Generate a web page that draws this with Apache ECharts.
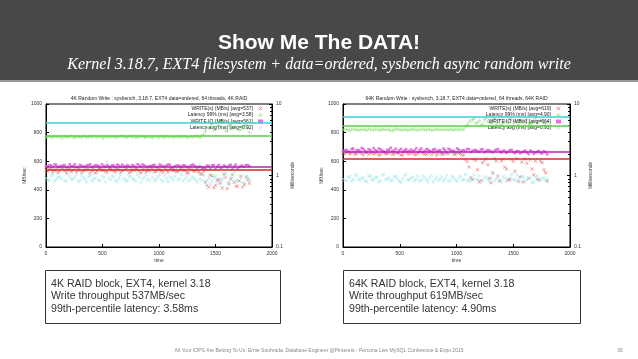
<!DOCTYPE html>
<html><head><meta charset="utf-8">
<script src="https://cdn.jsdelivr.net/npm/echarts@6/dist/echarts.min.js"></script>
<style>html,body{margin:0;padding:0;background:#fff}#c{width:638px;height:359px}</style>
</head><body><div id="c"></div>
<script>
// time axis (seconds): two interleaved sample passes
const times = [0,30,60,90,120,150,180,210,240,270,300,330,360,390,420,450,480,510,540,570,600,630,660,690,720,750,780,810,840,870,900,930,960,990,1020,1050,1080,1110,1140,1170,1200,1230,1260,1290,1320,1350,1380,1410,1440,1470,1500,1530,1560,1590,1620,1650,1680,1710,1740,1770,1800];
const times2 = [15,45,75,105,135,165,195,225,255,285,315,345,375,405,435,465,495,525,555,585,615,645,675,705,735,765,795,825,855,885,915,945,975,1005,1035,1065,1095,1125,1155,1185,1215,1245,1275,1305,1335,1365,1395,1425,1455,1485,1515,1545,1575,1605,1635,1665,1695,1725,1755,1785];

// 4K RAID chart
const redL = [538,546,524,541,531,552,519,544,536,527, 549,533,541,514,546,529,551,538,523,543, 532,547,521,539,550,527,536,545,517,541, 534,553,526,540,531,548,522,544,536,529, 551,538,519,542,533,527,508, 455,418,498,432, 471,412,486,440,505,425,462,418,490,445];
const redL2 = [529,543,537,520,548,533,541,526,554,535, 522,540,547,531,518,545,536,528,550,539, 525,543,534,549,519,538,546,530,542,524, 537,551,528,544,521,539,547,532,526,545, 535,520,549,531,541,512,530, 430,502,415,468,447,510,408,478,452,425,495,436,470];
const greenL = [3.42,3.50,3.38,3.47,3.55,3.40,3.45,3.52,3.36,3.48, 3.44,3.53,3.39,3.49,3.57,3.41,3.46,3.35,3.51,3.43, 3.48,3.37,3.54,3.45,3.40,3.50,3.60,3.42,3.47,3.38, 3.52,3.44,3.49,3.36,3.55,3.41,3.46,3.53,3.39,3.48, 3.43,3.51,3.37,3.46,3.54,3.40,3.62, 4.1,4.6,5.2,4.4,4.9,5.6,4.2,5.0,4.5,5.3,4.3,4.8,5.1,4.0];
const greenL2 = [3.47,3.39,3.53,3.44,3.36,3.50,3.42,3.56,3.41,3.46, 3.38,3.52,3.45,3.40,3.49,3.55,3.37,3.48,3.43,3.51, 3.41,3.46,3.58,3.39,3.53,3.44,3.36,3.49,3.55,3.42, 3.47,3.38,3.51,3.45,3.40,3.56,3.43,3.37,3.50,3.46, 3.52,3.39,3.48,3.44,3.57,3.41,3.75, 4.7,5.4,4.3,5.0,5.8,4.6,4.1,5.2,4.8,5.5,4.4,5.0,4.6];
const magL = [566,572,559,575,563,569,557,578,565,561, 574,560,568,577,562,571,556,566,573,559, 569,576,561,564,572,558,567,579,562,570, 557,566,574,560,569,563,577,558,565,571, 561,568,556,573,564,559,552,548,566,571, 545,574,558,563,569,550,576,560,567,572,565];
const magL2 = [562,570,577,558,567,573,560,565,579,556, 568,563,574,559,571,566,578,561,564,572, 557,569,575,562,566,573,559,570,577,563, 565,571,558,576,562,568,574,556,569,564, 572,560,567,575,558,563,555,569,547,573, 562,551,570,557,575,564,549,568,561,574];
const cyanL = [0.92,0.85,1.02,0.88,0.95,1.30,0.83,0.97,0.90,1.05, 0.86,0.93,0.81,0.99,0.89,1.08,0.84,0.94,1.55,0.87, 0.96,0.82,1.01,0.91,0.85,0.98,0.88,1.04,0.80,0.93, 0.89,1.12,0.84,0.95,0.87,1.00,0.82,0.92,0.97,0.86, 1.03,0.90,0.83,0.96,0.88,1.40,0.85,0.79,0.91,0.84, 0.98,0.77,0.88,1.06,0.81,0.93,0.86,1.20,0.80,0.95,0.87];
const cyanL2 = [0.87,0.99,0.83,0.94,0.90,0.85,1.07,0.88,0.95,0.82, 1.01,0.89,0.96,0.84,0.92,0.87,1.00,0.81,0.93,0.98, 0.86,0.91,1.18,0.84,0.97,0.89,0.83,0.95,0.90,1.02, 0.85,0.94,0.88,1.03,0.82,0.91,0.96,0.86,1.25,0.90, 0.84,0.98,0.87,0.93,0.81,0.89,1.01,0.85,0.76,0.94, 0.83,0.90,0.97,0.78,0.88,1.10,0.84,0.92,0.79,0.96];
const meanL = [537, 3.62, 561, 5.4];
const namesL = ['WRITE(s) (MB/s) [avg=537]','Latency 99% (ms) [avg=3.58]','WRITE IO (MB/s) [avg=561]','Latency avg (ms) [avg=0.92]'];

// 64K RAID chart
const redR = [655,662,648,668,651,659,644,665,657,650, 663,646,660,653,669,649,658,642,664,652, 661,647,656,667,650,659,645,663,654,648, 660,652,666,646,657,641, 610,560,470,605,455,590,615,480,520,600,462,612,545,470,598,618,490,455,585,610,505,475,600,540,460];
const redR2 = [650,664,657,645,668,653,660,647,662,655, 643,666,651,658,649,663,656,644,667,652, 659,646,665,654,648,661,657,643,664,650, 656,668,647,662,653,645, 598,485,612,540,465,605,575,450,618,495,602,560,470,610,530,458,595,615,480,545,600,468,590,520];
const greenR = [4.35,4.42,4.30,4.46,4.38,4.33,4.44,4.28,4.40,4.36, 4.47,4.32,4.39,4.43,4.29,4.37,4.45,4.34,4.41,4.31, 4.38,4.46,4.33,4.40,4.36,4.44,4.30,4.42,4.35,4.39, 4.43,4.32,4.37,4.45,4.34,4.40, 4.8,5.6,6.1,5.4,5.9,5.2,6.3,5.5,5.8,5.1,6.0,5.3,5.7,6.2,5.0,5.6,5.9,5.4,6.1,5.2,5.8,5.5,6.0,5.3,5.7];
const greenR2 = [4.40,4.31,4.45,4.37,4.28,4.43,4.35,4.48,4.33,4.39, 4.30,4.44,4.36,4.41,4.27,4.46,4.38,4.32,4.43,4.35, 4.42,4.29,4.37,4.47,4.34,4.40,4.31,4.45,4.38,4.33, 4.36,4.44,4.30,4.41,4.47,4.39, 5.2,5.8,6.2,5.5,5.0,6.0,5.7,5.3,6.3,5.6,5.1,5.9,5.4,6.1,5.7,5.2,5.8,6.0,5.5,5.3,6.2,5.6,5.9,5.4];
const magR = [672,680,665,688,676,669,684,662,678,691, 670,683,667,679,694,673,661,686,675,668, 682,677,664,689,671,680,666,685,674,660, 678,687,670,663,681,675,668,684,672,679, 666,683,671,675,662,680,669,673,658,677, 664,671,655,668,660,674,652,666,658,670,648];
const magR2 = [675,668,686,660,679,692,671,683,665,677, 689,674,662,681,670,687,676,666,684,672, 669,690,678,663,685,673,681,667,676,688, 662,680,673,689,667,677,685,664,676,670, 681,663,678,668,674,685,660,672,667,679, 656,670,663,675,650,667,661,672,654,663];
const cyanR = [0.90,0.84,0.97,0.88,1.02,0.86,0.93,0.82,0.99,0.87, 0.95,0.83,1.04,0.89,0.85,0.96,0.91,0.81,1.00,0.87, 0.92,0.84,0.98,0.86,0.94,0.82,1.01,0.88,0.85,0.96, 0.90,0.83,0.97,0.87,0.93,0.86,1.03,0.84,0.91,0.88, 0.99,0.85,0.94,0.82,1.06,0.89,0.86,0.97,0.83,0.92, 0.88,1.02,0.84,0.95,0.87,0.91,0.81,0.99,0.86,0.93,0.89];
const cyanR2 = [0.86,0.95,0.83,1.00,0.89,0.92,0.84,0.98,0.87,0.94, 0.82,1.01,0.88,0.93,0.85,0.97,0.83,0.90,1.05,0.86, 0.95,0.88,0.84,0.99,0.87,0.92,0.81,0.96,0.89,0.84, 1.00,0.86,0.93,0.83,0.97,0.88,0.85,0.94,1.02,0.87, 0.83,0.96,0.89,0.91,0.85,0.99,0.82,0.93,0.88,1.04, 0.86,0.90,0.97,0.84,0.92,0.80,0.95,0.87,0.91,0.85];
const meanR = [619, 4.9, 664, 6.6];
const namesR = ['WRITE(s) (MB/s) [avg=619]','Latency 99% (ms) [avg=4.90]','WRITE IO (MB/s) [avg=664]','Latency avg (ms) [avg=0.93]'];

const xTicks = [0,500,1000,1500,2000];
const yTicks = [0,200,400,600,800,1000];

const chartTitles = ['4K Random Write : sysbench, 3.18.7, EXT4 data=ordered, 64 threads, 4K RAID',
                     '64K Random Write : sysbench, 3.18.7, EXT4 data=ordered, 64 threads, 64K RAID'];
const boxLines = [['4K RAID block, EXT4, kernel 3.18','Write throughput 537MB/sec','99th-percentile latency: 3.58ms'],
                  ['64K RAID block, EXT4, kernel 3.18','Write throughput 619MB/sec','99th-percentile latency: 4.90ms']];
const footer = 'All Your IOPS Are Belong To Us: Ernie Souhrada, Database Engineer @Pinterest - Percona Live MySQL Conference & Expo 2015';

const cross = 'path://M0,1L1,0L5,4L9,0L10,1L6,5L10,9L9,10L5,6L1,10L0,9L4,5Z';
const plus = 'path://M4,0L6,0L6,4L10,4L10,6L6,6L6,10L4,10L4,6L0,6L0,4L4,4Z';
const ptColors = ['#e2554f','#8fe27a','#e04fd8','#8fe0e6'];
const lnColors = ['#d42a2a','#55d040','#b522b8','#38d0d8'];
const symbols = [cross, plus, 'rect', cross];
const sizes = [3.5,3.5,2.5,3.5];

const grids = [{left:46, width:226, top:104, height:143}, {left:343, width:227, top:104, height:143}];
const small = {fontSize:5, color:'#333', fontFamily:'Liberation Sans'};

function pairs(a, b){
  return times.map((t,i)=>[t,a[i]]).concat(times2.map((t,i)=>[t,b[i]]));
}

const series = [];
const legends = [];
[[[redL,redL2],[greenL,greenL2],[magL,magL2],[cyanL,cyanL2],meanL,namesL],
 [[redR,redR2],[greenR,greenR2],[magR,magR2],[cyanR,cyanR2],meanR,namesR]].forEach((set,g)=>{
  for(let k=0;k<4;k++){
    const onRight = (k===1||k===3);
    series.push({
      type:'scatter', name:set[5][k], xAxisIndex:g, yAxisIndex:g*2+(onRight?1:0),
      data:pairs(set[k][0], set[k][1]), symbol:symbols[k], symbolSize:sizes[k],
      itemStyle:{color:ptColors[k]}, silent:true, animation:false,
      markLine:{silent:true, symbol:'none', label:{show:false}, animation:false,
        lineStyle:{color:lnColors[k], width:1.5, type:'solid'},
        data:[{yAxis:set[4][k]}]}
    });
  }
  legends.push({data:set[5], orient:'vertical', align:'right', top:106,
    right: 638-(grids[g].left+grids[g].width)+9, itemWidth:5, itemHeight:4, itemGap:1.5, padding:0,
    textStyle:{fontSize:5, color:'#222', fontFamily:'Liberation Sans'}, selectedMode:false});
});

const xAxes = grids.map((gr,g)=>({gridIndex:g, type:'value', min:0, max:2000, interval:500,
  axisLine:{lineStyle:{color:'#000'}}, axisTick:{inside:true, length:3, lineStyle:{color:'#000'}},
  axisLabel:Object.assign({margin:4, formatter:v=>xTicks.includes(v)?String(v):''}, small), splitLine:{show:false},
  name:'time', nameLocation:'middle', nameGap:11, nameTextStyle:small}));
const yAxes = [];
grids.forEach((gr,g)=>{
  yAxes.push({gridIndex:g, type:'value', min:0, max:1000, interval:200, position:'left',
    axisLine:{show:true, lineStyle:{color:'#000'}}, axisTick:{inside:true, length:3, lineStyle:{color:'#000'}},
    axisLabel:Object.assign({margin:4, formatter:v=>yTicks.includes(v)?String(v):''}, small), splitLine:{show:false},
    name:'MB/sec', nameLocation:'middle', nameGap:18, nameRotate:90, nameTextStyle:small});
  yAxes.push({gridIndex:g, type:'log', logBase:10, min:0.1, max:10, position:'right',
    axisLine:{show:true, lineStyle:{color:'#000'}}, axisTick:{inside:true, length:3, lineStyle:{color:'#000'}},
    minorTick:{show:true, splitNumber:9, length:2, lineStyle:{color:'#000'}},
    axisLabel:Object.assign({margin:4}, small), splitLine:{show:false},
    name:'Milliseconds', nameLocation:'middle', nameGap:18, nameRotate:90, nameTextStyle:small});
});

const graphic = [
  {type:'rect', shape:{x:0,y:0,width:638,height:80}, style:{fill:'#484848'}, silent:true},
  {type:'rect', shape:{x:0,y:80,width:638,height:2}, style:{fill:'#9a9a9a'}, silent:true},
  {type:'text', x:319, y:43, style:{text:'Show Me The DATA!', fill:'#fff', font:'bold 21px "Liberation Sans"', textAlign:'center', textVerticalAlign:'middle'}},
  {type:'text', x:319, y:65, style:{text:'Kernel 3.18.7, EXT4 filesystem + data=ordered, sysbench async random write', fill:'#fff', font:'italic 16px "Liberation Serif"', textAlign:'center', textVerticalAlign:'middle'}},
  {type:'text', x:319, y:351, style:{text:footer, fill:'#888', font:'5px "Liberation Sans"', textAlign:'center', textVerticalAlign:'middle'}},
  {type:'text', x:620, y:351, style:{text:'36', fill:'#888', font:'5px "Liberation Sans"', textAlign:'center', textVerticalAlign:'middle'}}
];
[[45,280],[343,580]].forEach((b,i)=>{
  graphic.push({type:'rect', shape:{x:b[0]+0.5,y:270.5,width:b[1]-b[0],height:53}, style:{fill:'#fff', stroke:'#333', lineWidth:1}, silent:true});
  boxLines[i].forEach((t,j)=>{
    graphic.push({type:'text', x:b[0]+6, y:284+j*12.5, style:{text:t, fill:'#333', font:'10.6px "Liberation Sans"', textVerticalAlign:'middle'}});
  });
});

const chart = echarts.init(document.getElementById('c'), null, {renderer:'canvas'});
chart.setOption({
  backgroundColor:'#fff', animation:false,
  title: chartTitles.map((t,g)=>({text:t, left:grids[g].left+grids[g].width/2, top:96, textAlign:'center', padding:0,
    textStyle:{fontSize:5, fontWeight:'normal', color:'#222', fontFamily:'Liberation Sans'}})),
  grid: grids.map(g=>Object.assign({show:true, borderColor:'#000', borderWidth:1, backgroundColor:'transparent'}, g)),
  legend: legends,
  xAxis: xAxes, yAxis: yAxes, series: series, graphic: graphic
});
</script></body></html>
